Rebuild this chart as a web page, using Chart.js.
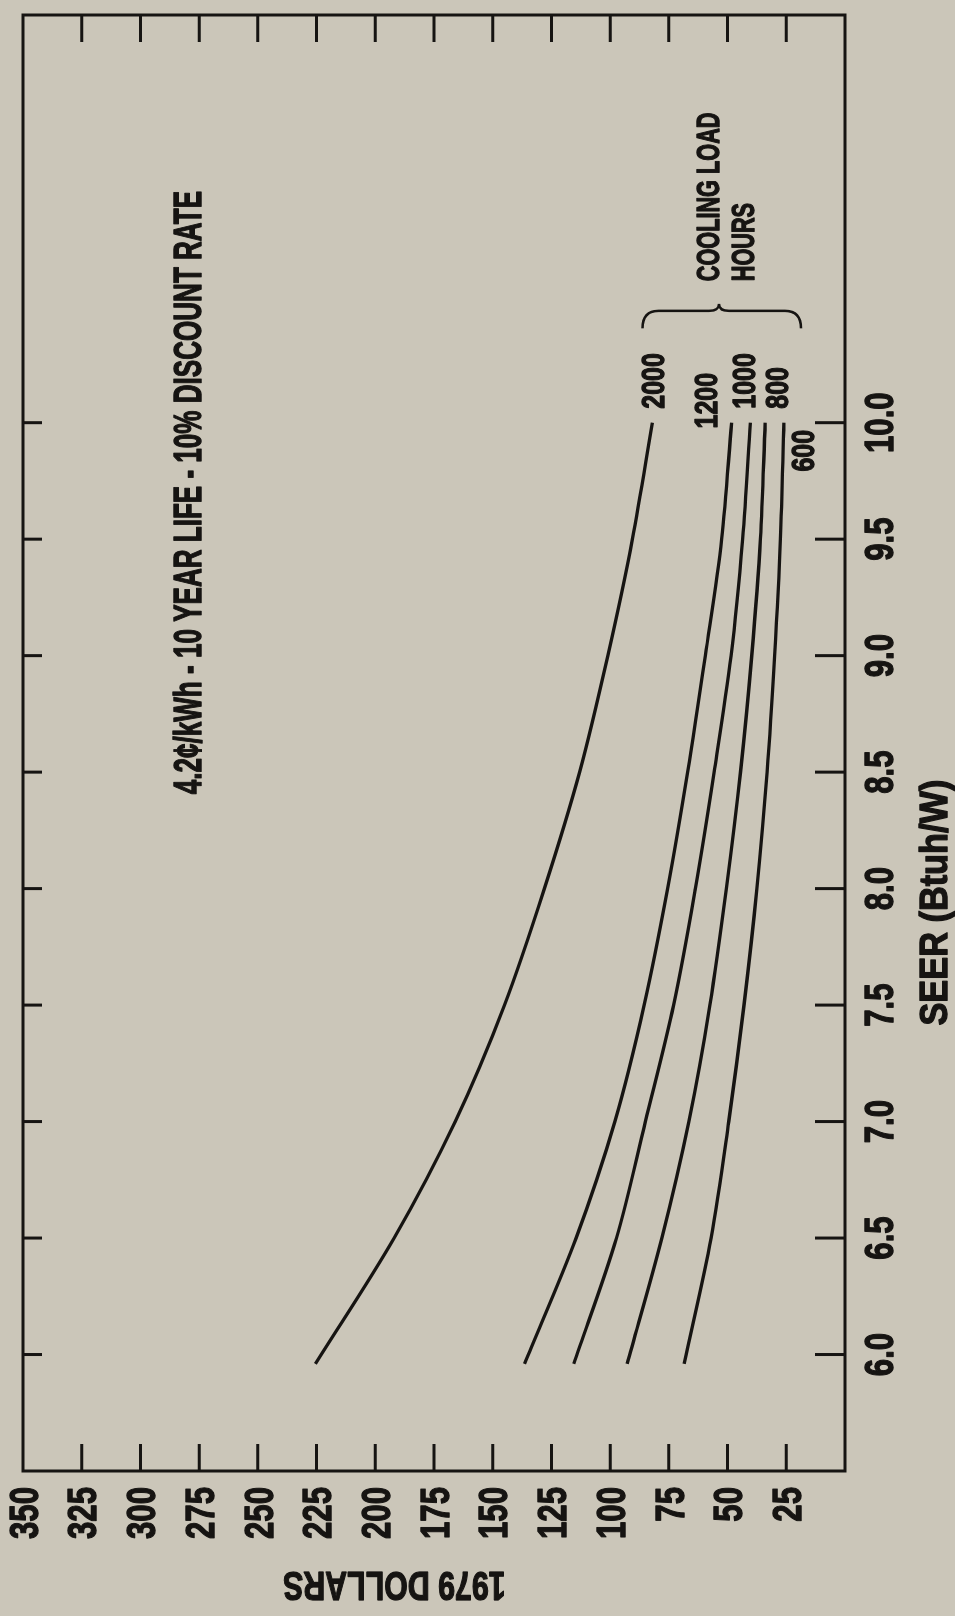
<!DOCTYPE html>
<html>
<head>
<meta charset="utf-8">
<script src="https://cdn.jsdelivr.net/npm/chart.js@4/dist/chart.umd.min.js"></script>
<style>
  html, body { margin:0; padding:0; background:#cbc6b9; overflow:hidden; }
  #wrap { position:absolute; left:0; top:0; width:1616px; height:955px;
          transform-origin:0 0; transform: translateY(1616px) rotate(-90deg); }
</style>
</head>
<body>
<div id="wrap"><canvas id="c" width="1616" height="955"></canvas></div>
<script>
// ---- data ----
const seerValues = [5.96, 6.5, 7.0, 7.5, 8.0, 8.5, 9.0, 9.5, 10.0];
const hoursLabels = ['2000', '1200', '1000', '800', '600'];
const cost2000 = [225.5, 192, 166, 145, 128, 113, 101, 90.5, 82];
const cost1200 = [136.5, 114.5, 98, 85.5, 75.5, 67, 59.5, 52.5, 48.3];
const cost1000 = [115.5, 97.3, 85, 73, 63.7, 55.7, 48.5, 43.6, 40.3];
const cost800  = [92.8, 78, 66.5, 57.5, 50.5, 44.5, 39.7, 36, 34];
const cost600  = [68.5, 57, 49.5, 43, 37.5, 33.2, 30, 27.5, 26];
const seerTicks = [6.0, 6.5, 7.0, 7.5, 8.0, 8.5, 9.0, 9.5, 10.0];
const dollarTicks = [25, 50, 75, 100, 125, 150, 175, 200, 225, 250, 275, 300, 325, 350];
const seriesCosts = [cost2000, cost1200, cost1000, cost800, cost600];

// ---- annotation placement (in data units) ----
const curveLabelPos = [
  {seer: 10.06, usd: 82},
  {seer: 9.975, usd: 59.2},
  {seer: 10.06, usd: 43.1},
  {seer: 10.06, usd: 29.3},
  {seer: 9.79, usd: 18}
];
const titleText = '4.2\u00A2/kWh - 10 YEAR LIFE - 10% DISCOUNT RATE';
const INK = '#161412';
const BG = '#cbc6b9';
const FONT = "'Liberation Sans', Arial, sans-serif";

const datasets = seriesCosts.map((arr, i) => ({
  label: hoursLabels[i],
  data: arr.map((v, j) => ({x: seerValues[j], y: v})),
  borderColor: INK,
  borderWidth: 3.3,
  pointRadius: 0,
  fill: false,
  cubicInterpolationMode: 'monotone'
}));

function txt(ctx, s, x, y, size, sx, align, rot) {
  ctx.save();
  ctx.translate(x, y);
  if (rot) ctx.rotate(rot);
  ctx.scale(sx, 1);
  ctx.font = 'bold ' + size + 'px ' + FONT;
  ctx.textAlign = align;
  ctx.textBaseline = 'alphabetic';
  ctx.fillStyle = INK; ctx.strokeStyle = INK;
  ctx.lineWidth = 1.3; ctx.lineJoin = 'round';
  ctx.fillText(s, 0, 0.358 * size);
  ctx.strokeText(s, 0, 0.358 * size);
  ctx.restore();
}

const decor = {
  id: 'decor',
  beforeDraw(chart) {
    const ctx = chart.ctx;
    ctx.save();
    ctx.fillStyle = BG;
    ctx.fillRect(0, 0, chart.width, chart.height);
    ctx.restore();
  },
  afterDraw(chart) {
    const ctx = chart.ctx, a = chart.chartArea;
    const xs = chart.scales.x, ys = chart.scales.y;
    ctx.save();
    ctx.strokeStyle = INK; ctx.fillStyle = INK;
    ctx.lineWidth = 3;
    ctx.strokeRect(a.left, a.top, a.right - a.left, a.bottom - a.top);
    // inward ticks
    ctx.beginPath();
    seerTicks.forEach(v => {
      const px = xs.getPixelForValue(v);
      ctx.moveTo(px, a.bottom); ctx.lineTo(px, a.bottom - 30);
      ctx.moveTo(px, a.top); ctx.lineTo(px, a.top + 19);
    });
    dollarTicks.forEach(v => {
      if (v >= 350) return;
      const py = ys.getPixelForValue(v);
      ctx.moveTo(a.left, py); ctx.lineTo(a.left + 27, py);
      ctx.moveTo(a.right, py); ctx.lineTo(a.right - 27, py);
    });
    ctx.stroke();

    // tick labels
    seerTicks.forEach(v => txt(ctx, v.toFixed(1), xs.getPixelForValue(v), a.bottom + 33, 41, 0.76, 'center'));
    dollarTicks.forEach(v => txt(ctx, String(v), a.left - 16, ys.getPixelForValue(v), 41, 0.76, 'right'));

    // title
    txt(ctx, titleText, xs.getPixelForValue(9.70), ys.getPixelForValue(280), 39, 0.668, 'center');

    // curve labels
    hoursLabels.forEach((t, i) => {
      txt(ctx, t, xs.getPixelForValue(curveLabelPos[i].seer), ys.getPixelForValue(curveLabelPos[i].usd), 32, 0.78, 'left');
    });

    // brace
    const X0 = xs.getPixelForValue(10.405), X1 = xs.getPixelForValue(10.48), X2 = xs.getPixelForValue(10.51);
    const Yt = ys.getPixelForValue(86.2), Yb = ys.getPixelForValue(18.7), Ym = ys.getPixelForValue(53.7);
    const r = 16, r2 = 10;
    ctx.lineWidth = 2.5;
    ctx.beginPath();
    ctx.moveTo(X0, Yt);
    ctx.quadraticCurveTo(X1, Yt, X1, Yt + r);
    ctx.lineTo(X1, Ym - r2);
    ctx.quadraticCurveTo(X1, Ym, X2, Ym);
    ctx.quadraticCurveTo(X1, Ym, X1, Ym + r2);
    ctx.lineTo(X1, Yb - r);
    ctx.quadraticCurveTo(X1, Yb, X0, Yb);
    ctx.stroke();

    // COOLING LOAD HOURS
    txt(ctx, 'COOLING LOAD', xs.getPixelForValue(10.607), ys.getPixelForValue(58.5), 31, 0.70, 'left');
    txt(ctx, 'HOURS', xs.getPixelForValue(10.607), ys.getPixelForValue(43.6), 31, 0.70, 'left');

    // axis titles
    txt(ctx, 'SEER (Btuh/W)', xs.getPixelForValue(7.94), a.bottom + 88, 39, 0.88, 'center');
    txt(ctx, '1979 DOLLARS', 29, ys.getPixelForValue(191.9), 41, 0.74, 'center', -Math.PI / 2);
    ctx.restore();
  }
};

new Chart(document.getElementById('c'), {
  type: 'line',
  data: { datasets },
  options: {
    responsive: false,
    animation: false,
    devicePixelRatio: 1,
    layout: { padding: { top: 23, right: 15, left: 0, bottom: 0 } },
    plugins: { legend: { display: false }, tooltip: { enabled: false } },
    scales: {
      x: {
        type: 'linear', min: 5.5, max: 11.75,
        afterBuildTicks: s => { s.ticks = seerTicks.map(v => ({ value: v })); },
        afterFit: s => { s.height = 110; },
        grid: { display: false }, border: { display: false },
        ticks: { display: false }
      },
      y: {
        type: 'linear', min: 0, max: 350,
        afterBuildTicks: s => { s.ticks = dollarTicks.map(v => ({ value: v })); },
        afterFit: s => { s.width = 145; },
        grid: { display: false }, border: { display: false },
        ticks: { display: false }
      }
    }
  },
  plugins: [decor]
});
</script>
</body>
</html>
